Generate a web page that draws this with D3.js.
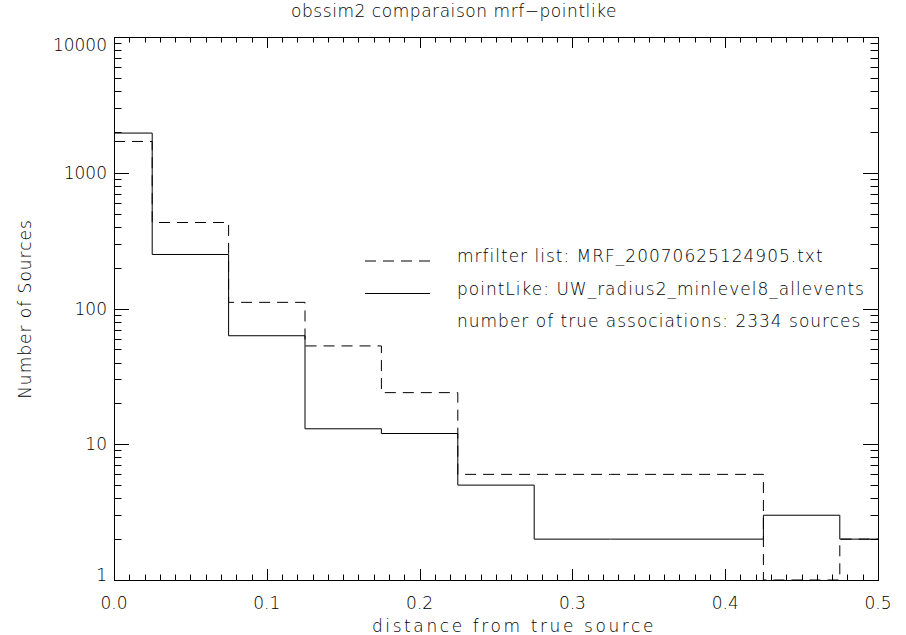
<!DOCTYPE html>
<html>
<head>
<meta charset="utf-8">
<script src="https://cdn.jsdelivr.net/npm/d3@7"></script>
<style>
  body { margin: 0; background: #fff; }
  text { font-family: "DejaVu Sans", sans-serif; font-weight: 200; fill: #000; }
</style>
</head>
<body>
<svg width="906" height="635"></svg>
<script>
// histogram bin centres (distance from true source)
const binCenters = [0, 0.05, 0.1, 0.15, 0.2, 0.25, 0.3, 0.35, 0.4, 0.45, 0.5];
const mrfilterCounts = [1700, 430, 111, 53, 24, 6, 6, 6, 6, 1, 2];
const pointlikeCounts = [1960, 250, 63, 13, 12, 5, 2, 2, 2, 3, 2];

const xMajorTicks = [0, 0.1, 0.2, 0.3, 0.4, 0.5];
const yMajorTicks = [1, 10, 100, 1000, 10000];

const titleText = "obssim2 comparaison mrf\u2212pointlike";
const xTitle = "distance from true source";
const yTitle = "Number of Sources";
const legendLabels = [
    "mrfilter list: MRF_20070625124905.txt",
    "pointLike: UW_radius2_minlevel8_allevents",
    "number of true associations: 2334 sources"
];

const svg = d3.select("svg");
const plotLeft = 114, plotRight = 878, plotTop = 37, plotBottom = 580;

const x = d3.scaleLinear().domain([0, 0.5]).range([plotLeft, plotRight]);
const y = d3.scaleLog().domain([1, 10000]).range([plotBottom, plotTop]);

// minor ticks
const xMinor = d3.range(0, 51).map(i => i / 100).filter(v => Math.round(v * 100) % 10 !== 0);
const yMinor = [];
[1, 10, 100, 1000].forEach(d => { for (let k = 2; k <= 9; k++) yMinor.push(d * k); });

// tick marks, drawn inward on all four sides
function xTickPath(values, len) {
    let p = "";
    values.forEach(d => {
        const xx = Math.round(x(d)) + 0.5;
        p += `M${xx},${plotBottom}V${plotBottom - len}`;
        p += `M${xx},${plotTop}V${plotTop + len}`;
    });
    return p;
}

function yTickPath(values, len) {
    let p = "";
    values.forEach(d => {
        const yy = Math.round(y(d)) + 0.5;
        p += `M${plotLeft},${yy}H${plotLeft + len}`;
        p += `M${plotRight},${yy}H${plotRight - len}`;
    });
    return p;
}

svg.append("path")
    .attr("d", xTickPath(xMajorTicks, 11) + xTickPath(xMinor, 5.5)
        + yTickPath(yMajorTicks, 15) + yTickPath(yMinor, 7.5))
    .attr("fill", "none")
    .attr("stroke", "#000")
    .attr("stroke-width", 1);

// tick labels
svg.append("g").selectAll("text")
    .data(xMajorTicks)
    .join("text")
    .attr("x", d => x(d))
    .attr("y", 609)
    .attr("text-anchor", "middle")
    .attr("font-size", 17)
    .text(d3.format(".1f"));

// idl keeps the end labels inside the frame
svg.append("g").selectAll("text")
    .data(yMajorTicks)
    .join("text")
    .attr("x", 107)
    .attr("y", d => Math.min(Math.max(y(d), plotTop + 8), plotBottom - 5) + 6)
    .attr("text-anchor", "end")
    .attr("font-size", 17)
    .text(d3.format("d"));

// frame
svg.append("rect")
    .attr("x", plotLeft + 0.5).attr("y", plotTop + 0.5)
    .attr("width", plotRight - plotLeft).attr("height", plotBottom - plotTop)
    .attr("fill", "none").attr("stroke", "#000").attr("shape-rendering", "crispEdges");

// histogram steps (idl psym=10 style)
function stepPoints(values) {
    const pts = [];
    const half = (binCenters[1] - binCenters[0]) / 2;
    values.forEach((v, i) => {
        const x0 = Math.max(binCenters[0], binCenters[i] - half);
        const x1 = Math.min(binCenters[binCenters.length - 1], binCenters[i] + half);
        pts.push([x0, v], [x1, v]);
    });
    return pts;
}

const line = d3.line()
    .x(d => x(d[0]))
    .y(d => y(d[1]));

svg.append("path")
    .attr("d", line(stepPoints(mrfilterCounts)))
    .attr("fill", "none").attr("stroke", "#000").attr("stroke-width", 1)
    .attr("stroke-dasharray", "11,7");

svg.append("path")
    .attr("d", line(stepPoints(pointlikeCounts)))
    .attr("fill", "none").attr("stroke", "#000").attr("stroke-width", 1);

// titles
svg.append("text")
    .attr("x", 454).attr("y", 17)
    .attr("text-anchor", "middle").attr("font-size", 17)
    .attr("letter-spacing", 0.55)
    .text(titleText);

svg.append("text")
    .attr("x", 514).attr("y", 632)
    .attr("text-anchor", "middle").attr("font-size", 17)
    .attr("letter-spacing", 2.6)
    .text(xTitle);

svg.append("text")
    .attr("transform", "translate(31,309) rotate(-90)")
    .attr("text-anchor", "middle").attr("font-size", 17)
    .attr("letter-spacing", 1)
    .text(yTitle);

// legend
const legend = svg.append("g");
const styles = ["11,7", null, null];
legendLabels.forEach((label, i) => {
    const yy = 262 + i * 32.5;
    if (i < 2) {
        legend.append("line")
            .attr("x1", 365).attr("x2", 430)
            .attr("y1", yy - 1).attr("y2", yy - 1)
            .attr("stroke", "#000")
            .attr("stroke-dasharray", styles[i]);
    }
    legend.append("text")
        .attr("x", 457).attr("y", yy)
        .attr("font-size", 17)
        .attr("letter-spacing", 1)
        .text(label);
});
</script>
</body>
</html>
